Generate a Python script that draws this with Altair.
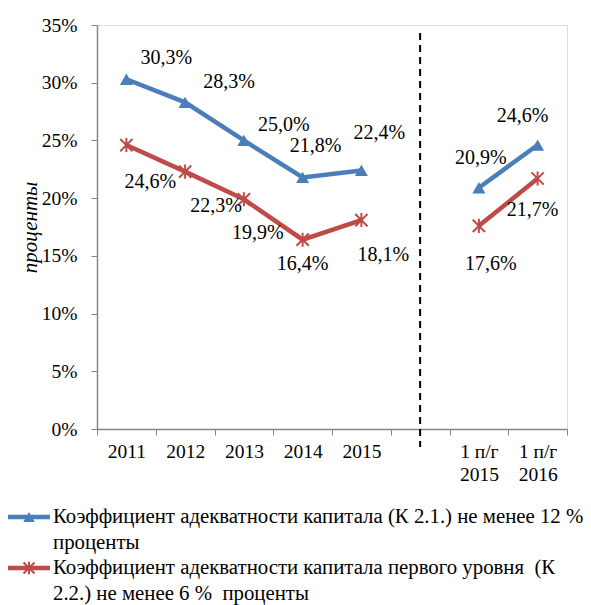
import altair as alt
import pandas as pd

# ---- data ----
categories = ["2011", "2012", "2013", "2014", "2015", " ", "1 п/г\n2015", "1 п/г\n2016"]
gap_category = " "
series_names = [
    "Коэффициент адекватности капитала (К 2.1.) не менее 12 %\nпроценты",
    "Коэффициент адекватности капитала первого уровня \u00a0(К\n2.2.) не менее 6 % \u00a0проценты",
]
k21_values = [30.3, 28.3, 25.0, 21.8, 22.4, None, 20.9, 24.6]
k22_values = [24.6, 22.3, 19.9, 16.4, 18.1, None, 17.6, 21.7]
y_ticks = [0, 5, 10, 15, 20, 25, 30, 35]
y_title = "проценты"

# ---- layout of the value labels (pixel offsets from each point) ----
k21_dx = [40, 44, 40, 13, 18, 0, 2, -15]
k21_dy = [-21, -20, -15, -31, -37, 0, -30, -29]
k22_dx = [24, 31, 14, 0, 22, 0, 12, -5]
k22_dy = [37, 34, 34, 24, 35, 0, 38, 31]

BLUE = "#4A7EBB"
RED = "#BE4B48"
FONT = "Liberation Serif"
W, H = 470, 404

gap_index = categories.index(gap_category)


def build(values, name):
    rows = []
    for i, (c, v) in enumerate(zip(categories, values)):
        if v is None:
            continue
        rows.append({
            "cat": c, "v": v, "series": name, "idx": i,
            "seg": 0 if i < gap_index else 1,
            "label": f"{v:.1f}".replace(".", ",") + "%",
        })
    return pd.DataFrame(rows)


df21 = build(k21_values, series_names[0])
df22 = build(k22_values, series_names[1])

x_enc = alt.X(
    "cat:N",
    sort=categories,
    scale=alt.Scale(domain=categories, type="band", paddingInner=0, paddingOuter=0),
    axis=alt.Axis(
        title=None,
        labelExpr="split(datum.label, '\\n')",
        labelLineHeight=23, labelPadding=7, labelAngle=0,
        tickBand="extent", labelBaseline="top",
    ),
)
y_enc = alt.Y(
    "v:Q",
    scale=alt.Scale(domain=[0, 35], nice=False, zero=True),
    axis=alt.Axis(
        values=y_ticks, grid=False,
        labelExpr="datum.value + '%'",
        labelPadding=14,
        title=y_title,
        titleX=-67, titleY=H / 2, titleAngle=270, titleAlign="center",
        titleBaseline="middle",
    ),
)

layers = []

# dashed separator
sep = alt.Chart(pd.DataFrame({"cat": [gap_category]})).mark_rule(
    color="black", strokeWidth=2, strokeDash=[7, 5], clip=False
).encode(x=x_enc, y=alt.value(8), y2=alt.value(H + 18))
layers.append(sep)

for df, color in [(df21, BLUE), (df22, RED)]:
    line = alt.Chart(df).mark_line(strokeWidth=4.5, color=color).encode(
        x=x_enc, y=y_enc, detail="seg:N", order="idx:Q"
    )
    layers.append(line)

pts21 = alt.Chart(df21).mark_point(
    shape="triangle-up", filled=True, color=BLUE, size=170, opacity=1
).encode(x=x_enc, y=y_enc)
star = "M-1,-1L1,1M1,-1L-1,1M0,-1.15L0,1.15"
pts22 = alt.Chart(df22).mark_point(
    shape=star, filled=False, color=RED, size=150, strokeWidth=2, opacity=1
).encode(x=x_enc, y=y_enc)
layers += [pts21, pts22]

# value labels
for df, dxs, dys in [(df21, k21_dx, k21_dy), (df22, k22_dx, k22_dy)]:
    for _, r in df.iterrows():
        i = int(r["idx"])
        t = alt.Chart(df[df["idx"] == i]).mark_text(
            font=FONT, fontSize=20, color="black", dx=dxs[i], dy=dys[i],
            align="center", baseline="middle"
        ).encode(x=x_enc, y=y_enc, text="label:N")
        layers.append(t)

# manual legend below the plot
leg_rows = [(series_names[0], BLUE, "triangle-up", 492), (series_names[1], RED, star, 543)]
for name, color, shape, ly in leg_rows:
    ld = pd.DataFrame({"name": [name]})
    layers.append(alt.Chart(ld).mark_rule(color=color, strokeWidth=4.5, clip=False).encode(
        x=alt.value(-89), x2=alt.value(-47), y=alt.value(ly)))
    if shape == "triangle-up":
        layers.append(alt.Chart(ld).mark_point(shape=shape, filled=True, color=color, size=130,
                                               opacity=1, clip=False).encode(
            x=alt.value(-68), y=alt.value(ly)))
    else:
        layers.append(alt.Chart(ld).mark_point(shape=shape, filled=False, color=color, size=120,
                                               strokeWidth=2, opacity=1, clip=False).encode(
            x=alt.value(-68), y=alt.value(ly)))
    layers.append(alt.Chart(ld).mark_text(
        font=FONT, fontSize=20.8, color="black", align="left", baseline="middle",
        lineBreak="\n", lineHeight=25.5, clip=False
    ).encode(x=alt.value(-44), y=alt.value(ly), text="name:N"))

chart = alt.layer(*layers).properties(
    width=W, height=H,
    autosize=alt.AutoSizeParams(type="none"),
    padding={"left": 89, "top": 17, "right": 16, "bottom": 176},
).configure_view(stroke=None).configure(background="white").configure_axis(
    labelFont=FONT, labelFontSize=19.5, labelColor="black",
    tickSize=6, tickColor="#868686", domainColor="#868686", domainWidth=1.5,
    titleFont=FONT, titleFontSize=21, titleFontStyle="italic",
    titleFontWeight="normal", titleColor="black", grid=False,
)

chart.save("out.html", embed_options={"renderer": "svg", "actions": False})
